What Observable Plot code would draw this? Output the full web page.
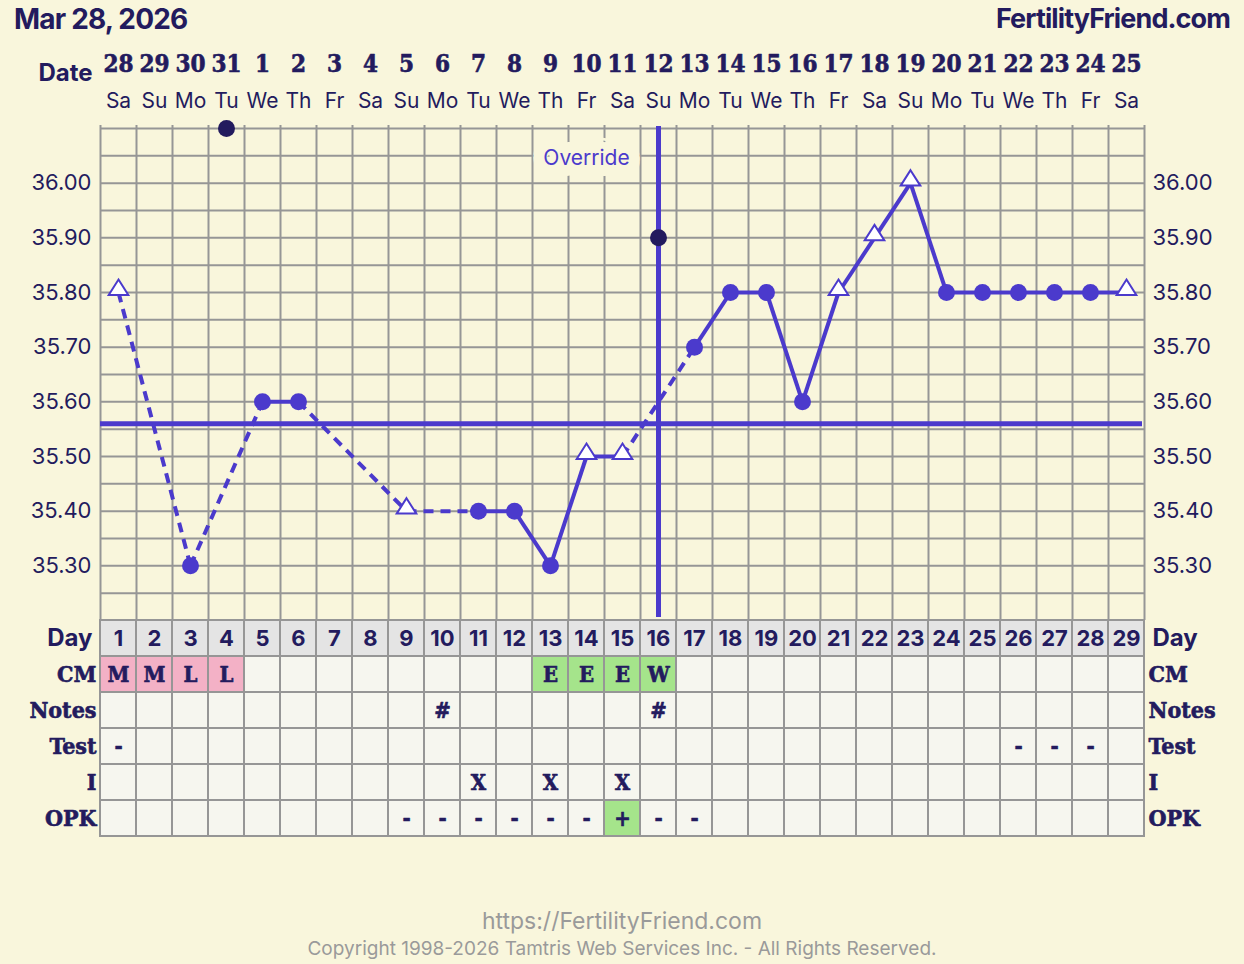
<!DOCTYPE html>
<html>
<head>
<meta charset="utf-8">
<script src="https://cdn.jsdelivr.net/npm/d3@7"></script>
<script src="https://cdn.jsdelivr.net/npm/@observablehq/plot@0.6"></script>
<style>
  html, body { margin: 0; padding: 0; background: #f9f6dc; }
  #page { position: relative; width: 1244px; height: 964px; background: #f9f6dc; overflow: hidden;
          font-family: Inter, "Noto Sans", sans-serif; color: #231b5e; }
  #title { position: absolute; left: 14px; top: 2px; font-size: 28px; font-weight: 700; letter-spacing: -0.8px; }
  #brand { position: absolute; right: 14px; top: 2px; font-size: 27px; font-weight: 700; letter-spacing: -0.9px; }
  #chart { position: absolute; left: 0; top: 0; }
  #table { position: absolute; left: 0; top: 618px; }
  #url { position: absolute; left: 0; width: 1244px; top: 907px; text-align: center; color: #9a9a9a; font-size: 23px; }
  #copy { position: absolute; left: 0; width: 1244px; top: 937px; text-align: center; color: #9a9a9a; font-size: 19px; }
</style>
</head>
<body>
<div id="page">
  <div id="title">Mar 28, 2026</div>
  <div id="brand">FertilityFriend.com</div>
  <div id="chart"></div>
  <div id="table"></div>
  <div id="url">https://FertilityFriend.com</div>
  <div id="copy">Copyright 1998-2026 Tamtris Web Services Inc. - All Rights Reserved.</div>
</div>
<script>
// ---------- data ----------
const days = [1,2,3,4,5,6,7,8,9,10,11,12,13,14,15,16,17,18,19,20,21,22,23,24,25,26,27,28,29];
const dateNums = ["28","29","30","31","1","2","3","4","5","6","7","8","9","10","11","12","13","14","15","16","17","18","19","20","21","22","23","24","25"];
const weekdays = ["Sa","Su","Mo","Tu","We","Th","Fr","Sa","Su","Mo","Tu","We","Th","Fr","Sa","Su","Mo","Tu","We","Th","Fr","Sa","Su","Mo","Tu","We","Th","Fr","Sa"];
const temps = [35.80, null, 35.30, null, 35.60, 35.60, null, null, 35.40, null, 35.40, 35.40, 35.30, 35.50, 35.50, null,
               35.70, 35.80, 35.80, 35.60, 35.80, 35.90, 36.00, 35.80, 35.80, 35.80, 35.80, 35.80, 35.80];
const markers = ["t","","c","","c","c","","","t","","c","c","c","t","t","",
                 "c","c","c","c","t","t","t","c","c","c","c","c","t"];
const excludedDays = [4, 16];
const excludedTemps = [36.10, 35.90];
const coverline = [35.56];
const overrideDay = [16];
const overrideNote = [{day: 14, temp: 36.046, label: "Override"}];
const tempTicks = [35.30, 35.40, 35.50, 35.60, 35.70, 35.80, 35.90, 36.00];

const rowNames = ["Day", "CM", "Notes", "Test", "I", "OPK"];
const cmDays = [1, 2, 3, 4, 13, 14, 15, 16];
const cmCodes = ["M", "M", "L", "L", "E", "E", "E", "W"];
const notesDays = [10, 16];
const notesVals = ["#", "#"];
const testDays = [1, 26, 27, 28];
const testVals = ["-", "-", "-", "-"];
const iDays = [11, 13, 15];
const iVals = ["X", "X", "X"];
const opkDays = [9, 10, 11, 12, 13, 14, 15, 16, 17];
const opkVals = ["-", "-", "-", "-", "-", "-", "+", "-", "-"];

// ---------- styles ----------
const BG = "#f9f6dc", GRID = "#969696", PURPLE = "#4b3acc", NAVY = "#231b5e";
const SANS = "Inter, 'Noto Sans', sans-serif";
const SLAB = "'DejaVu Serif Condensed', 'DejaVu Serif', serif";
const PINK = "#f3b1c6", GREEN = "#a5e48b", CELL = "#f6f6ef", DAYROW = "#e4e4e4";

// ---------- derived ----------
const pts = days.map((d, i) => ({day: d, temp: temps[i], marker: markers[i]})).filter(p => p.temp != null);
const segs = [];
for (let i = 0; i < pts.length - 1; i++) {
  const a = pts[i], b = pts[i + 1];
  segs.push({x1: a.day, y1: a.temp, x2: b.day, y2: b.temp, dashed: b.day - a.day > 1});
}
const excluded = excludedDays.map((d, i) => ({day: d, temp: excludedTemps[i]}));
const gridY = d3.range(0, 19).map(k => +(35.20 + k * 0.05).toFixed(2));
const gridX = d3.range(0, 30).map(k => k + 0.5);

const triUp = {
  draw(ctx, size) {
    const r = Math.sqrt(size / Math.PI);
    const w = r * 1.4, top = -r * 1.85, base = r * 0.35;
    ctx.moveTo(0, top); ctx.lineTo(w, base); ctx.lineTo(-w, base); ctx.closePath();
  }
};

const chart = Plot.plot({
  width: 1244, height: 620,
  marginTop: 128, marginBottom: 0, marginLeft: 100, marginRight: 100,
  x: {domain: [0.5, 29.5], axis: null},
  y: {domain: [35.20, 36.10], axis: null},
  style: {background: "transparent", fontFamily: SANS, color: NAVY, overflow: "visible"},
  marks: [
    Plot.ruleY(gridY, {stroke: GRID, strokeWidth: 2}),
    Plot.ruleX(gridX, {stroke: GRID, strokeWidth: 2, insetTop: -3}),
    Plot.ruleY(coverline, {stroke: PURPLE, strokeWidth: 5, insetRight: 2}),
    Plot.text(overrideNote, {x: "day", y: "temp", text: "label", fill: PURPLE, stroke: BG, strokeWidth: 22,
      strokeLinejoin: "round", paintOrder: "stroke", fontSize: 21, fontFamily: SANS}),
    Plot.ruleX(overrideDay, {stroke: PURPLE, strokeWidth: 5, insetTop: -2, insetBottom: 3}),
    Plot.link(segs.filter(s => !s.dashed), {x1: "x1", y1: "y1", x2: "x2", y2: "y2", stroke: PURPLE, strokeWidth: 4}),
    Plot.link(segs.filter(s => s.dashed), {x1: "x1", y1: "y1", x2: "x2", y2: "y2", stroke: PURPLE, strokeWidth: 4, strokeDasharray: "10,7"}),
    Plot.dot(excluded, {x: "day", y: "temp", r: 8.5, fill: NAVY}),
    Plot.dot(pts.filter(p => p.marker === "c"), {x: "day", y: "temp", r: 8.5, fill: PURPLE}),
    Plot.dot(pts.filter(p => p.marker === "t"), {x: "day", y: "temp", r: 7, symbol: triUp, fill: "#ffffff", stroke: PURPLE, strokeWidth: 2}),
    Plot.text(tempTicks, {y: d => d, text: d => d.toFixed(2), frameAnchor: "left", dx: -9, textAnchor: "end", fontSize: 22, fill: NAVY}),
    Plot.text(tempTicks, {y: d => d, text: d => d.toFixed(2), frameAnchor: "right", dx: 8, textAnchor: "start", fontSize: 22, fill: NAVY}),
    Plot.text(days, {x: d => d, text: (d, i) => dateNums[i], frameAnchor: "top", lineAnchor: "middle", dy: -64,
      fontSize: 24, fontWeight: "bold", fontFamily: SLAB, fill: NAVY, stroke: NAVY, strokeWidth: 0.6}),
    Plot.text(days, {x: d => d, text: (d, i) => weekdays[i], frameAnchor: "top", lineAnchor: "middle", dy: -27,
      fontSize: 21, fill: NAVY}),
    Plot.text(["Date"], {text: d => d, frameAnchor: "top-left", lineAnchor: "middle", dx: -8, dy: -55, textAnchor: "end",
      fontSize: 24, fontWeight: "bold", fill: NAVY})
  ]
});
document.getElementById("chart").appendChild(chart);

// ---------- table ----------
const cells = [];
rowNames.forEach(r => days.forEach(d => cells.push({row: r, day: d, fill: r === "Day" ? DAYROW : CELL, text: r === "Day" ? String(d) : ""})));
const cellAt = (r, d) => cells.find(c => c.row === r && c.day === d);
cmDays.forEach((d, i) => { const c = cellAt("CM", d); c.text = cmCodes[i]; c.fill = (cmCodes[i] === "M" || cmCodes[i] === "L") ? PINK : GREEN; });
notesDays.forEach((d, i) => { cellAt("Notes", d).text = notesVals[i]; });
testDays.forEach((d, i) => { cellAt("Test", d).text = testVals[i]; });
iDays.forEach((d, i) => { cellAt("I", d).text = iVals[i]; });
opkDays.forEach((d, i) => { const c = cellAt("OPK", d); c.text = opkVals[i]; if (opkVals[i] === "+") c.fill = GREEN; });

const table = Plot.plot({
  width: 1244, height: 220,
  marginTop: 2, marginBottom: 2, marginLeft: 100, marginRight: 100,
  x: {type: "band", domain: days, padding: 0, axis: null},
  y: {type: "band", domain: rowNames, padding: 0, axis: null},
  color: {type: "identity"},
  style: {background: "transparent", fontFamily: SANS, color: NAVY, overflow: "visible"},
  marks: [
    Plot.cell(cells, {x: "day", y: "row", fill: "fill", stroke: GRID, strokeWidth: 2}),
    Plot.text(cells.filter(c => c.row === "Day"), {x: "day", y: "row", text: "text", fontSize: 22, fontWeight: "bold", fill: NAVY}),
    Plot.text(cells.filter(c => c.row !== "Day" && c.text), {x: "day", y: "row", text: "text", fontSize: 22, fontWeight: "bold", fontFamily: SLAB, fill: NAVY, stroke: NAVY, strokeWidth: 0.6}),
    Plot.text(["Day"], {y: d => d, text: d => d, frameAnchor: "left", dx: -8, textAnchor: "end", fontSize: 24, fontWeight: "bold", fill: NAVY}),
    Plot.text(rowNames.slice(1), {y: d => d, text: d => d, frameAnchor: "left", dx: -4, textAnchor: "end", fontSize: 23, fontWeight: "bold", fontFamily: SLAB, fill: NAVY, stroke: NAVY, strokeWidth: 0.6}),
    Plot.text(["Day"], {y: d => d, text: d => d, frameAnchor: "right", dx: 8, textAnchor: "start", fontSize: 24, fontWeight: "bold", fill: NAVY}),
    Plot.text(rowNames.slice(1), {y: d => d, text: d => d, frameAnchor: "right", dx: 4, textAnchor: "start", fontSize: 23, fontWeight: "bold", fontFamily: SLAB, fill: NAVY, stroke: NAVY, strokeWidth: 0.6})
  ]
});
document.getElementById("table").appendChild(table);
</script>
</body>
</html>
